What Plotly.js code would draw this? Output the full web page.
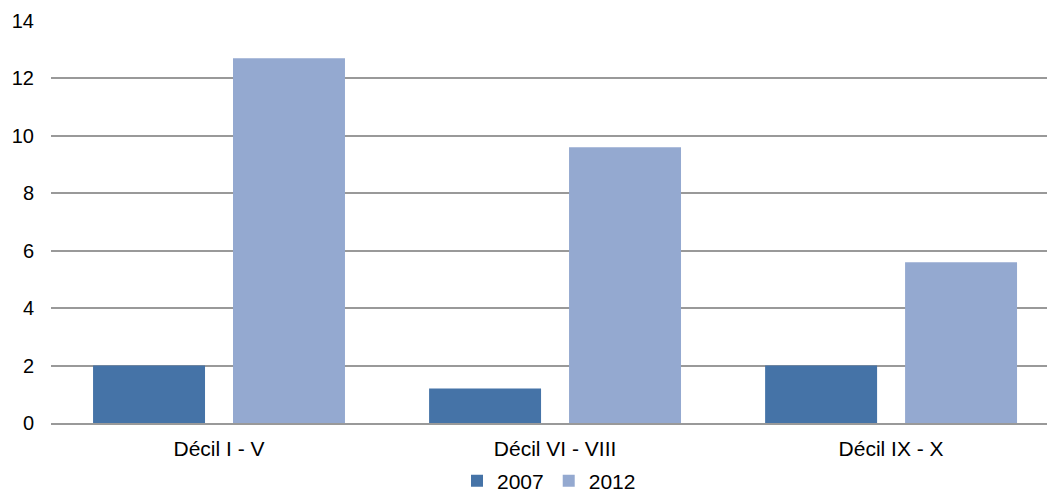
<!DOCTYPE html>
<html>
<head>
<meta charset="utf-8">
<script src="https://cdn.plot.ly/plotly-3.0.1.min.js"></script>
<style>html,body{margin:0;padding:0;background:#fff;}#chart{width:1047px;height:492px;}</style>
</head>
<body>
<div id="chart"></div>
<script>
const categories = ["Décil I - V", "Décil VI - VIII", "Décil IX - X"];
const values2007 = [2.0, 1.2, 2.0];
const values2012 = [12.7, 9.6, 5.6];
const seriesNames = ["2007", "2012"];
const yTicks = [0, 2, 4, 6, 8, 10, 12, 14];

const data = [
  {type: "bar", name: seriesNames[0], x: categories, y: values2007, marker: {color: "#4573A7"}},
  {type: "bar", name: seriesNames[1], x: categories, y: values2012, marker: {color: "#94A9D0"}}
];

const layout = {
  width: 1047, height: 492,
  margin: {l: 51, r: 0, t: 21, b: 69},
  paper_bgcolor: "#fff", plot_bgcolor: "#fff",
  font: {family: "Liberation Sans, Arial, sans-serif", size: 20, color: "#000"},
  barmode: "group",
  bargap: 0.167,
  bargroupgap: 0.2,
  showlegend: true,
  legend: {orientation: "h", x: 0.5, xanchor: "center", y: 0.022, yref: "container", yanchor: "middle", font: {size: 21}, itemwidth: 30, traceorder: "normal"},
  xaxis: {
    range: [-0.5, 2.464],
    showgrid: false, showline: true, linecolor: "#999", linewidth: 2, automargin: false,
    ticks: "", ticklabelstandoff: 6, tickfont: {size: 21}, fixedrange: true
  },
  yaxis: {
    range: [0, 14], tickvals: yTicks, ticktext: yTicks.map(String), automargin: false,
    showgrid: true, gridcolor: "#999", gridwidth: 2, zeroline: false,
    showline: false, ticks: "", ticklabelstandoff: 16, tickfont: {size: 20}, fixedrange: true
  }
};

Plotly.newPlot("chart", data, layout, {displayModeBar: false, staticPlot: true});
</script>
</body>
</html>
